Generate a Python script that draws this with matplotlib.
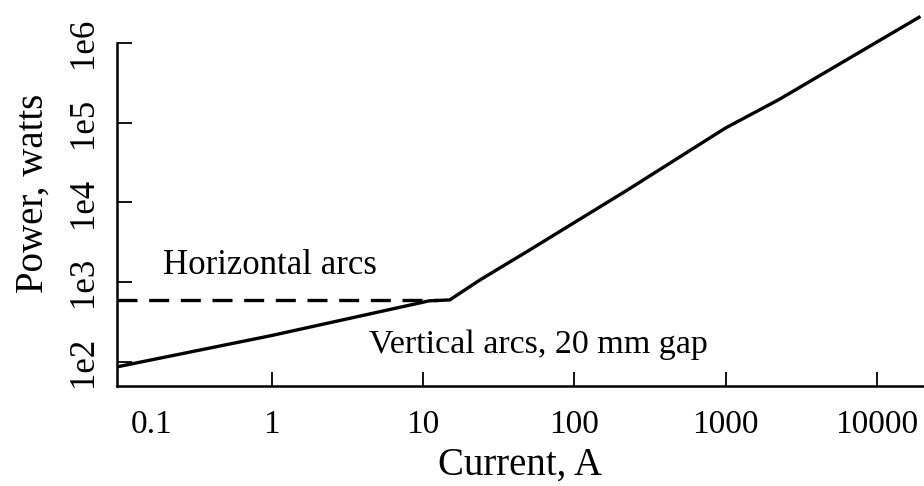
import matplotlib
matplotlib.use("Agg")
import matplotlib.pyplot as plt
import matplotlib.transforms as mtransforms

plt.rcParams['font.family'] = ['Liberation Serif', 'DejaVu Serif']

# Vertical arcs, 20 mm gap (solid curve)
current = [0.095, 1.0, 11.0, 15.0, 24.0, 50.0, 93.0, 220.0, 1000.0, 2250.0, 19000.0]
power = [87, 215, 585, 600, 1080, 2500, 5150, 14000, 86000, 195000, 2.1e6]

# Horizontal arcs (dashed level)
h_current = [0.095, 12.5]
h_power = [600, 600]

x_ticks = [0.1, 1, 10, 100, 1000, 10000]
x_labels = ['0.1', '1', '10', '100', '1000', '10000']
y_ticks = [1e2, 1e3, 1e4, 1e5, 1e6]
y_labels = ['1e2', '1e3', '1e4', '1e5', '1e6']

fig = plt.figure(figsize=(9.24, 4.86), dpi=100)
ax = fig.add_axes([117 / 924, 1 - 386 / 486, 1 - 117 / 924, 386 / 486])

ax.plot(current, power, color='black', lw=2.4, solid_joinstyle='round')
ax.plot(h_current, h_power, color='black', lw=2.4, dashes=(6, 3.5))

ax.set_xscale('log')
ax.set_yscale('log')
ax.set_xlim(0.0948, 20500)
ax.set_ylim(50, 3.46e6)

for side in ('top', 'right'):
    ax.spines[side].set_visible(False)
for side in ('left', 'bottom'):
    ax.spines[side].set_linewidth(1.8)
ax.spines['left'].set_bounds(50, 1e6)

ax.set_xticks(x_ticks)
ax.set_xticklabels(x_labels)
ax.set_yticks(y_ticks)
ax.set_yticklabels(y_labels, rotation=90, va='center')
ax.minorticks_off()
ax.tick_params(axis='x', direction='in', length=10, width=1.3, pad=17, labelsize=24)
ax.tick_params(axis='y', direction='in', length=11, width=1.3, pad=12, labelsize=25)
ax.xaxis.get_major_ticks()[0].tick1line.set_visible(False)

# the 0.1 label sits a little right of its tick
lbl = ax.get_xticklabels()[0]
lbl.set_transform(lbl.get_transform() + mtransforms.ScaledTranslation(0.31, 0, fig.dpi_scale_trans))

ax.set_xlabel('Current, A', fontsize=28, labelpad=5)
ax.set_ylabel('Power, watts', fontsize=28, labelpad=11)

ax.text(0.19, 1630, 'Horizontal arcs', fontsize=25, va='center', ha='left')
ax.text(4.4, 163, 'Vertical arcs, 20 mm gap', fontsize=24.5, va='center', ha='left')

fig.savefig('out.png', dpi=100)
